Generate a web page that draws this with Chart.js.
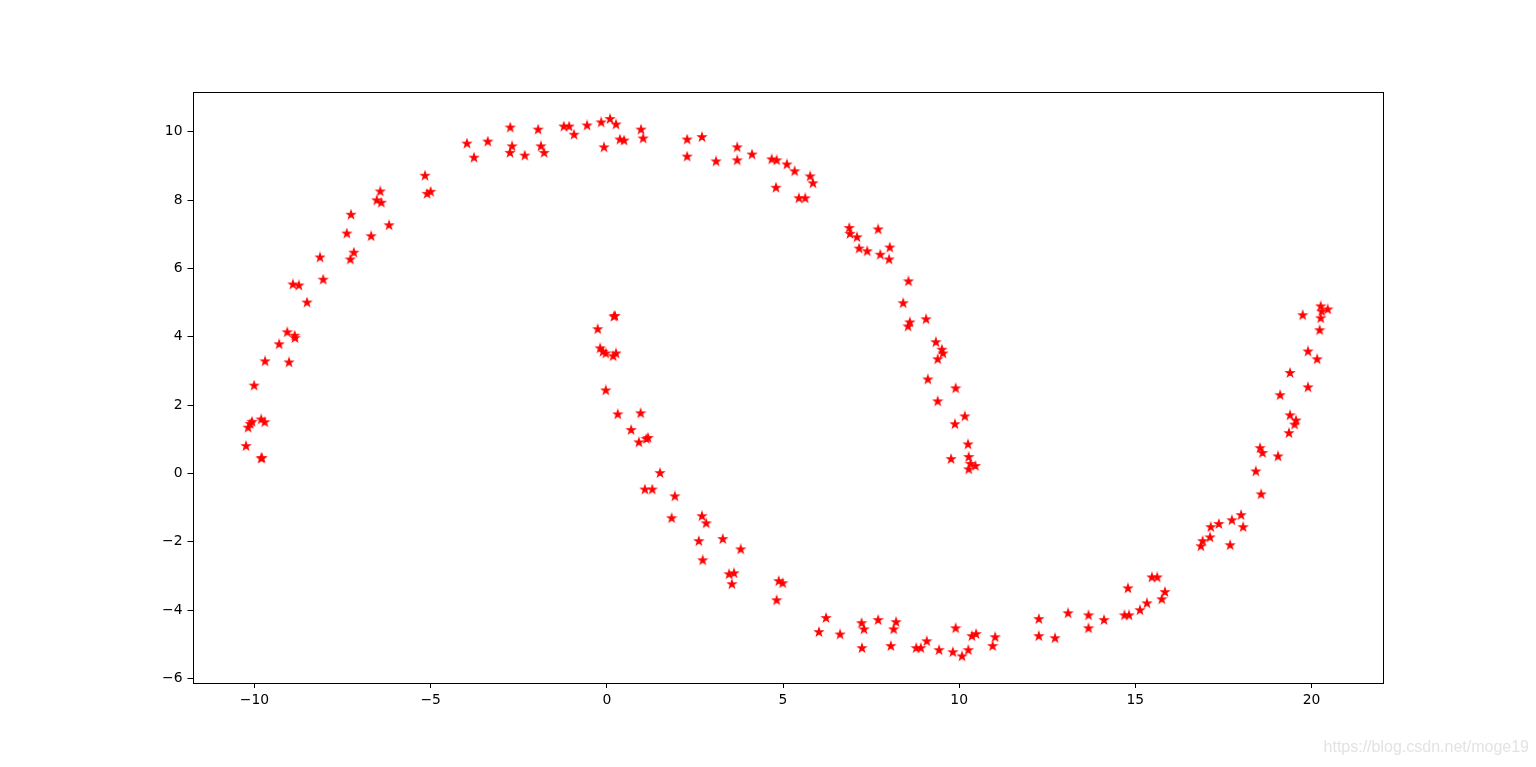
<!DOCTYPE html>
<html>
<head>
<meta charset="utf-8">
<script src="https://cdn.jsdelivr.net/npm/chart.js@4/dist/chart.umd.min.js"></script>
<style>
  body { margin: 0; background: #fff; }
  #grafico { display: block; }
</style>
</head>
<body>
<canvas id="grafico" width="1536" height="767"></canvas>
<script>
// pontos: primeiro a lua de cima, depois a de baixo
const xValues = [
  -10.24, -10.18, -10.12, -10.07, -9.81, -9.71, -9.79, -9.81, -10.01, -9.70,
  -9.02, -9.30, -8.86, -8.85, -9.07, -8.51, -8.91, -8.74, -8.05, -8.14,
  -7.28, -7.18, -7.38, -6.69, -6.18, -7.26, -6.53, -6.40, -6.43, -5.16,
  -5.10, -5.00, -3.97, -3.77, -3.38, -2.74, -2.69, -2.75, -2.33, -1.95,
  -1.87, -1.78, -1.22, -1.07, -0.93, -0.56, -0.16, -0.08, 0.09, 0.26,
  0.37, 0.49, 0.97, 1.03, 2.28, 2.28, 2.70, 3.10, 3.70, 3.70,
  4.12, 4.68, 4.82, 4.80, 5.11, 5.33, 5.77, 5.85, 5.45, 5.63,
  6.88, 6.90, 7.70, 7.10, 7.16, 7.39, 8.03, 7.76, 8.01, 8.56,
  8.41, 9.06, 8.60, 8.55, 9.34, 9.51, 9.54, 9.39, 9.11, 9.90,
  9.39, 10.16, 9.88, 10.25, 10.27, 9.77, 10.32, 10.46, 10.27,
  0.20, 0.23, -0.26, -0.19, -0.11, -0.03, 0.18, 0.26, -0.03, 0.31,
  0.96, 0.69, 0.91, 1.12, 1.17, 1.51, 1.08, 1.29, 1.93, 1.84,
  2.70, 2.82, 2.61, 3.29, 3.80, 2.72, 3.47, 3.61, 3.55, 4.88,
  4.99, 4.82, 6.02, 6.22, 6.62, 7.23, 7.30, 7.24, 7.70, 8.21,
  8.14, 8.06, 8.78, 8.91, 9.08, 9.43, 9.82, 9.90, 10.08, 10.26,
  10.36, 10.48, 10.95, 11.02, 12.26, 12.26, 12.72, 13.09, 13.67, 13.67,
  14.11, 14.69, 14.82, 14.79, 15.13, 15.33, 15.47, 15.62, 15.75, 15.84,
  16.86, 16.91, 17.12, 17.14, 17.37, 17.69, 17.74, 18.00, 18.06, 18.57,
  18.42, 18.54, 18.61, 19.05, 19.36, 19.39, 19.56, 19.52, 19.11, 19.90,
  19.39, 19.90, 20.16, 20.23, 19.75, 20.26, 20.26, 20.46, 20.29
];
const yValues = [
  0.80, 1.34, 1.45, 1.51, 1.58, 1.50, 0.45, 0.44, 2.57, 3.28,
  3.25, 3.78, 4.03, 3.96, 4.13, 5.00, 5.53, 5.50, 5.67, 6.32,
  6.26, 6.46, 7.02, 6.94, 7.26, 7.57, 7.99, 7.92, 8.25, 8.71,
  8.18, 8.24, 9.65, 9.24, 9.71, 10.12, 9.57, 9.38, 9.30, 10.06,
  9.57, 9.38, 10.15, 10.15, 9.91, 10.18, 10.27, 9.54, 10.37, 10.21,
  9.77, 9.74, 10.06, 9.80, 9.77, 9.27, 9.84, 9.13, 9.54, 9.16,
  9.33, 9.19, 9.16, 8.36, 9.04, 8.84, 8.69, 8.49, 8.05, 8.05,
  7.18, 7.01, 7.14, 6.91, 6.58, 6.50, 6.61, 6.40, 6.26, 5.62,
  4.98, 4.51, 4.42, 4.30, 3.84, 3.62, 3.51, 3.34, 2.75, 2.49,
  2.11, 1.67, 1.44, 0.85, 0.48, 0.42, 0.28, 0.22, 0.12,
  4.59, 4.61, 4.22, 3.66, 3.56, 3.51, 3.43, 3.51, 2.43, 1.73,
  1.76, 1.27, 0.91, 1.01, 1.04, 0.01, -0.47, -0.47, -0.67, -1.31,
  -1.25, -1.46, -1.98, -1.92, -2.22, -2.54, -2.95, -2.92, -3.24, -3.15,
  -3.21, -3.71, -4.64, -4.23, -4.71, -4.38, -4.56, -5.11, -4.29, -4.35,
  -4.56, -5.05, -5.11, -5.11, -4.91, -5.17, -5.23, -4.53, -5.35, -5.17,
  -4.76, -4.70, -5.05, -4.79, -4.26, -4.76, -4.82, -4.09, -4.15, -4.53,
  -4.29, -4.15, -4.15, -3.36, -4.00, -3.80, -3.04, -3.04, -3.68, -3.47,
  -2.13, -1.98, -1.87, -1.57, -1.48, -2.10, -1.37, -1.22, -1.57, -0.61,
  0.06, 0.74, 0.60, 0.50, 1.18, 1.70, 1.55, 1.43, 2.29, 2.52,
  2.94, 3.57, 3.34, 4.19, 4.63, 4.54, 4.89, 4.80, 4.74
];
const xTicks = [-10, -5, 0, 5, 10, 15, 20];
const yTicks = [-6, -4, -2, 0, 2, 4, 6, 8, 10];

// estrela cheia de 5 pontas, como o marcador '*' do matplotlib
function criarEstrela() {
    const c = document.createElement('canvas');
    c.width = 12;
    c.height = 12;
    const g = c.getContext('2d');
    const rOut = 4.1, rIn = rOut * 0.382;
    g.beginPath();
    for (let i = 0; i < 10; i++) {
        const r = i % 2 === 0 ? rOut : rIn;
        const a = -Math.PI / 2 + i * Math.PI / 5;
        const px = 6 + r * Math.cos(a), py = 6 + r * Math.sin(a);
        if (i === 0) g.moveTo(px, py); else g.lineTo(px, py);
    }
    g.closePath();
    g.fillStyle = '#ff0000';
    g.fill();
    g.lineWidth = 1.2;
    g.strokeStyle = '#ff0000';
    g.stroke();
    return c;
}

const menos = v => String(v).replace('-', '\u2212');
const fonteEixo = { family: '"DejaVu Sans"', size: 13.9 };

// moldura completa da área do gráfico
const moldura = {
    id: 'moldura',
    afterDatasetsDraw(chart) {
        const { ctx, chartArea: a } = chart;
        ctx.save();
        ctx.strokeStyle = '#000';
        ctx.lineWidth = 1;
        ctx.strokeRect(Math.round(a.left) + 0.5, Math.round(a.top) + 0.5,
            Math.round(a.right - a.left), Math.round(a.bottom - a.top));
        ctx.restore();
    }
};

const marcaDagua = {
    id: 'marcaDagua',
    afterDraw(chart) {
        const ctx = chart.ctx;
        ctx.save();
        ctx.font = '16px "Liberation Sans"';
        ctx.fillStyle = '#e3e3e3';
        ctx.textAlign = 'right';
        ctx.textBaseline = 'middle';
        ctx.fillText('https://blog.csdn.net/moge19', 1529, 748);
        ctx.restore();
    }
};

window.onload = function() {
    const pontos = xValues.map((x, i) => ({ x: x, y: yValues[i] }));
    const ctx = document.getElementById('grafico').getContext('2d');
    new Chart(ctx, {
        type: 'scatter',
        data: {
            datasets: [{
                data: pontos,
                pointStyle: criarEstrela(),
                pointRadius: 5,
                backgroundColor: '#ff0000',
                borderColor: '#ff0000'
            }]
        },
        options: {
            responsive: false,
            animation: false,
            layout: { padding: { top: 92, right: 154, left: 0, bottom: 0 } },
            plugins: {
                legend: { display: false },
                tooltip: { enabled: false }
            },
            scales: {
                x: {
                    type: 'linear',
                    min: -11.76,
                    max: 22.0,
                    afterFit: s => { s.height = 84; },
                    afterBuildTicks: s => { s.ticks = xTicks.map(v => ({ value: v })); },
                    border: { display: false },
                    grid: { drawOnChartArea: false, drawTicks: true, tickLength: 5, color: '#000', tickWidth: 1 },
                    ticks: { color: '#000', font: fonteEixo, padding: 4, maxRotation: 0, callback: v => menos(v) }
                },
                y: {
                    type: 'linear',
                    min: -6.13,
                    max: 11.16,
                    afterFit: s => { s.width = 192.5; },
                    afterBuildTicks: s => { s.ticks = yTicks.map(v => ({ value: v })); },
                    border: { display: false },
                    grid: { drawOnChartArea: false, drawTicks: true, tickLength: 5, color: '#000', tickWidth: 1 },
                    ticks: { color: '#000', font: fonteEixo, padding: 5, callback: v => menos(v) }
                }
            }
        },
        plugins: [moldura, marcaDagua]
    });
};
</script>
</body>
</html>
